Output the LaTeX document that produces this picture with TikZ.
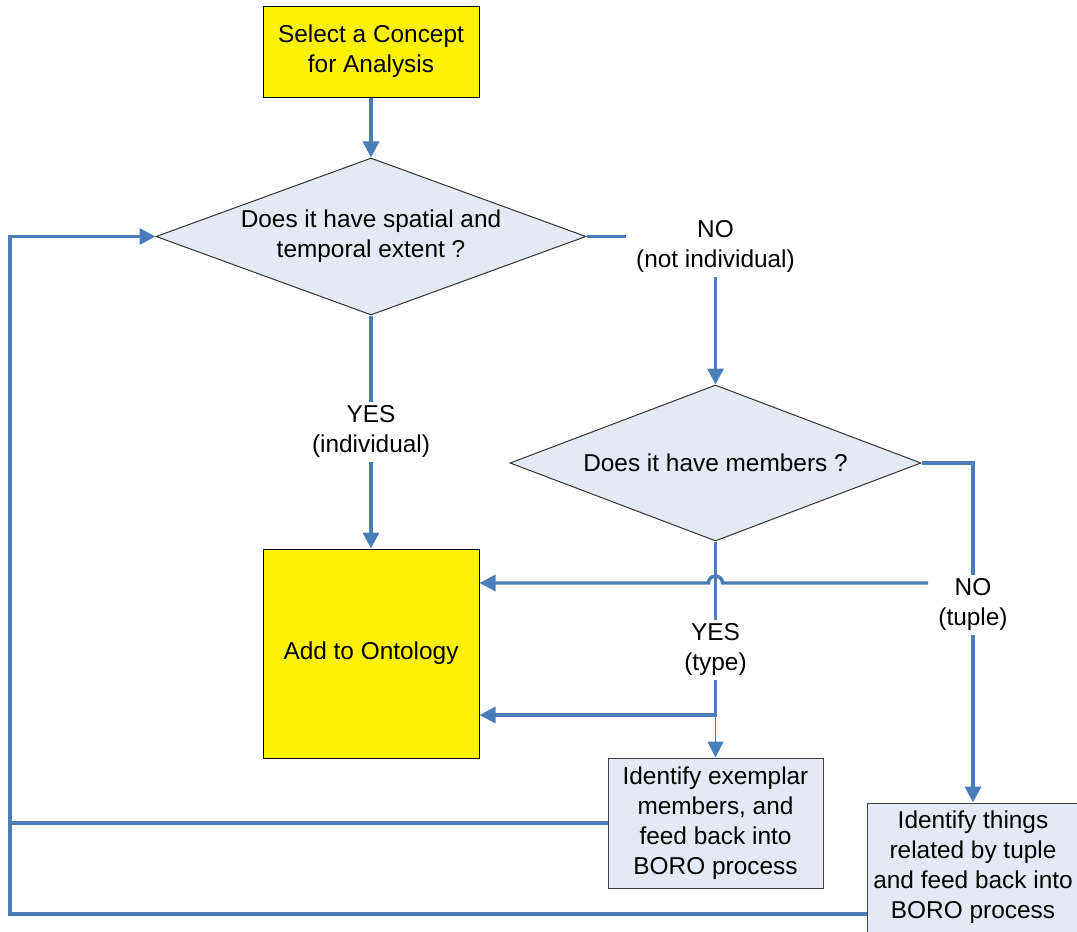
\documentclass[tikz,border=0pt]{standalone}
\usepackage{fontspec}
\setmainfont{Liberation Sans}
\usepackage{tikz}
\usetikzlibrary{calc,shapes,arrows.meta}
\definecolor{flowblue}{HTML}{4A7EBB}
\definecolor{paleblue}{HTML}{E3EAF5}

\begin{document}
\begin{tikzpicture}[x=0.5pt,y=-0.5pt,
    font=\fontsize{12.2}{15}\selectfont,
    yellowbox/.style={draw=black,line width=0.5pt,fill=yellow,align=center,inner sep=0pt},
    bluebox/.style={draw=black!75,line width=0.5pt,fill=paleblue,align=center,inner sep=0pt},
    decision/.style={diamond,draw=black!80,line width=0.5pt,fill=paleblue,align=center,inner sep=0pt},
    answer/.style={align=center,inner xsep=5pt,inner ysep=2pt},
    flow/.style={draw=flowblue,line width=1.7pt},
    flowarrow/.style={flow,-{Triangle[length=8pt,width=8pt]}}]
    \useasboundingbox (0,0) rectangle (1077,932);
    \node[yellowbox,minimum width=108pt,minimum height=45.5pt] (select) at (371,51.5) {Select a Concept\\for Analysis};
    \node[decision,aspect=2.74,minimum width=215pt,minimum height=78.5pt] (extent) at (371,236.5) {Does it have spatial and\\temporal extent ?};
    \node[decision,aspect=2.63,minimum width=205.5pt,minimum height=78pt] (members) at (715.5,463) {Does it have members ?};
    \node[yellowbox,minimum width=108pt,minimum height=104.5pt] (ontology) at (371,653.5) {Add to Ontology};
    \node[bluebox,minimum width=107.5pt,minimum height=65pt] (exemplar) at (715.5,823) {Identify exemplar\\members, and\\feed back into\\BORO process};
    \node[bluebox,minimum width=106pt,minimum height=64.5pt] (tuple) at (973,867.5) {Identify things\\related by tuple\\and feed back into\\BORO process};
    % answers on the connectors
    \node[answer] (notind) at (715.5,247) {NO\\(not individual)};
    \node[answer] (indiv) at (371,432) {YES\\(individual)};
    \node[answer] (notuple) at (973,605) {NO\\(tuple)};
    \node[answer] (type) at (715.5,650) {YES\\(type)};
    \coordinate (cross) at (715.5,583);
    \coordinate (typejoin) at (715.5,715);
    \coordinate (loop) at (10,914);
    % connectors
    \draw[flowarrow] (select) -- (extent);
    \draw[flow] (extent.east) -- (extent.east -| notind.west);
    \draw[flowarrow] (notind) -- (members);
    \draw[flow] (extent) -- (indiv);
    \draw[flowarrow] (indiv) -- (ontology);
    \draw[flow] (members.east) -| (notuple);
    \draw[flowarrow] (notuple) -- (tuple);
    \draw[flow] (members) -- (type);
    \draw[flowarrow] (notuple.west |- cross) -- ([xshift=3.5pt]cross)
        arc[start angle=0,end angle=-180,radius=7] -- (cross -| ontology.east);
    \draw[flowarrow] (type) -- (typejoin) -- (typejoin -| ontology.east);
    \draw[flowarrow,line width=0.6pt] (typejoin) -- (exemplar);
    \draw[flow] (exemplar.west) -- (exemplar.west -| loop);
    \draw[flowarrow] (tuple.west |- loop) -- (loop) -- (loop |- extent) -- (extent.west);
\end{tikzpicture}
\end{document}
